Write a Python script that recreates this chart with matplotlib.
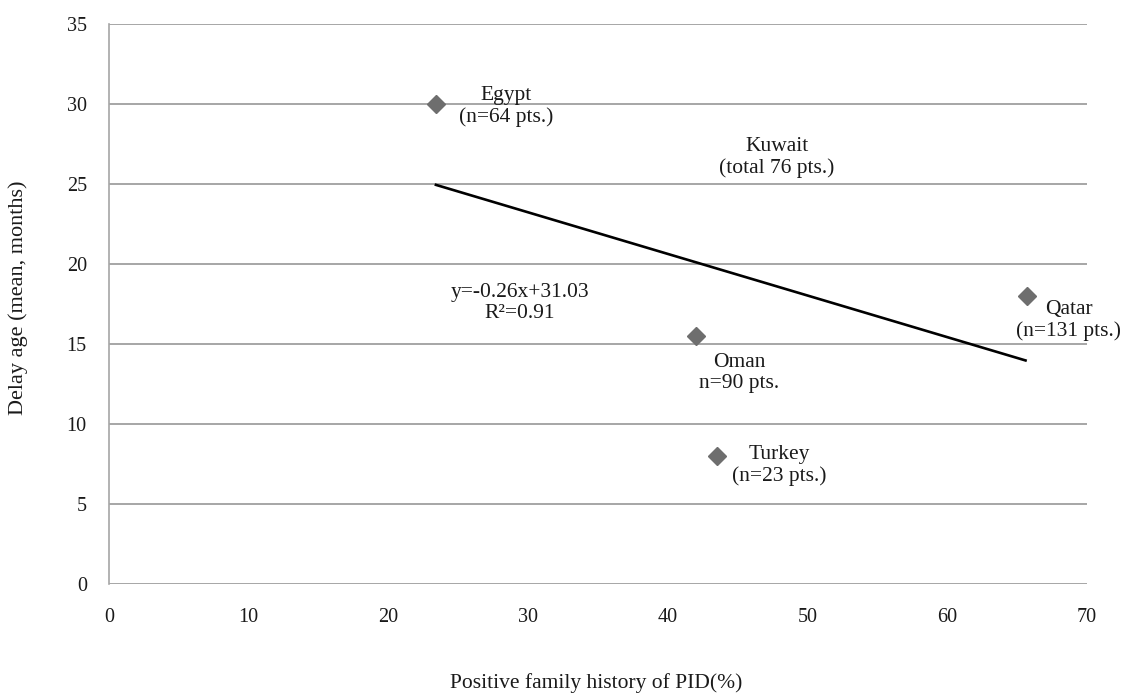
import matplotlib
matplotlib.use("Agg")
import matplotlib.pyplot as plt
import numpy as np

plt.rcParams['font.family'] = ['Liberation Serif', 'DejaVu Serif']

# data
countries = ["Egypt", "Oman", "Turkey", "Qatar"]
pid_pct = [23.4, 42.0, 43.5, 65.7]
delay_months = [30.0, 15.5, 8.0, 18.0]

labels = ["Egypt\n(n=64 pts.)", "Oman\nn=90 pts.", "Turkey\n(n=23 pts.)",
          "Qatar\n(n=131 pts.)", "Kuwait\n(total 76 pts.)"]
label_pos = [(28.4, 29.86), (45.1, 13.19), (48.0, 7.42), (68.7, 16.47), (47.8, 26.64)]

slope, intercept = -0.26, 31.03
fit_x = [23.4, 65.6]
eq_text = "y=-0.26x+31.03\nR\u00b2=0.91"
eq_pos = (29.4, 17.54)

fig = plt.figure(figsize=(11.27, 6.93), dpi=100)
ax = fig.add_axes([0.0967, 0.1572, 0.8678, 0.8082])

ax.set_xlim(0, 70)
ax.set_ylim(0, 35)
ax.set_xticks(np.arange(0, 71, 10))
ax.set_yticks(np.arange(0, 36, 5))
ax.yaxis.grid(True, color="#a6a6a6", linewidth=1.4)
ax.set_axisbelow(True)
for s in ["top", "right", "bottom"]:
    ax.spines[s].set_visible(False)
ax.spines["left"].set_color("#a6a6a6")
ax.spines["left"].set_linewidth(1.2)
ax.tick_params(axis="both", length=0, labelsize=14.5, labelcolor="#1a1a1a")
ax.tick_params(axis="y", pad=16)
ax.tick_params(axis="x", pad=17)

fx = np.array(fit_x)
ax.plot(fx, slope * fx + intercept, color="black", linewidth=1.9, zorder=3)

ax.plot(pid_pct, delay_months, linestyle="none", marker="D", markersize=9.5,
        color="#6e6e6e", zorder=4)

for txt, (tx, ty) in zip(labels, label_pos):
    ax.text(tx, ty, txt, ha="center", va="center", fontsize=15.5,
            linespacing=1.15, color="#1a1a1a")
ax.text(eq_pos[0], eq_pos[1], eq_text, ha="center", va="center", fontsize=15.5,
        linespacing=1.15, color="#1a1a1a")

fig.text(0.529, 0.014, "Positive family history of PID(%)", ha="center",
         va="center", fontsize=15.5, color="#1a1a1a")
fig.text(0.016, 0.571, "Delay age (mean, months)", ha="center", va="center",
         rotation=90, fontsize=16, color="#1a1a1a")

fig.savefig("out.png", dpi=100)
